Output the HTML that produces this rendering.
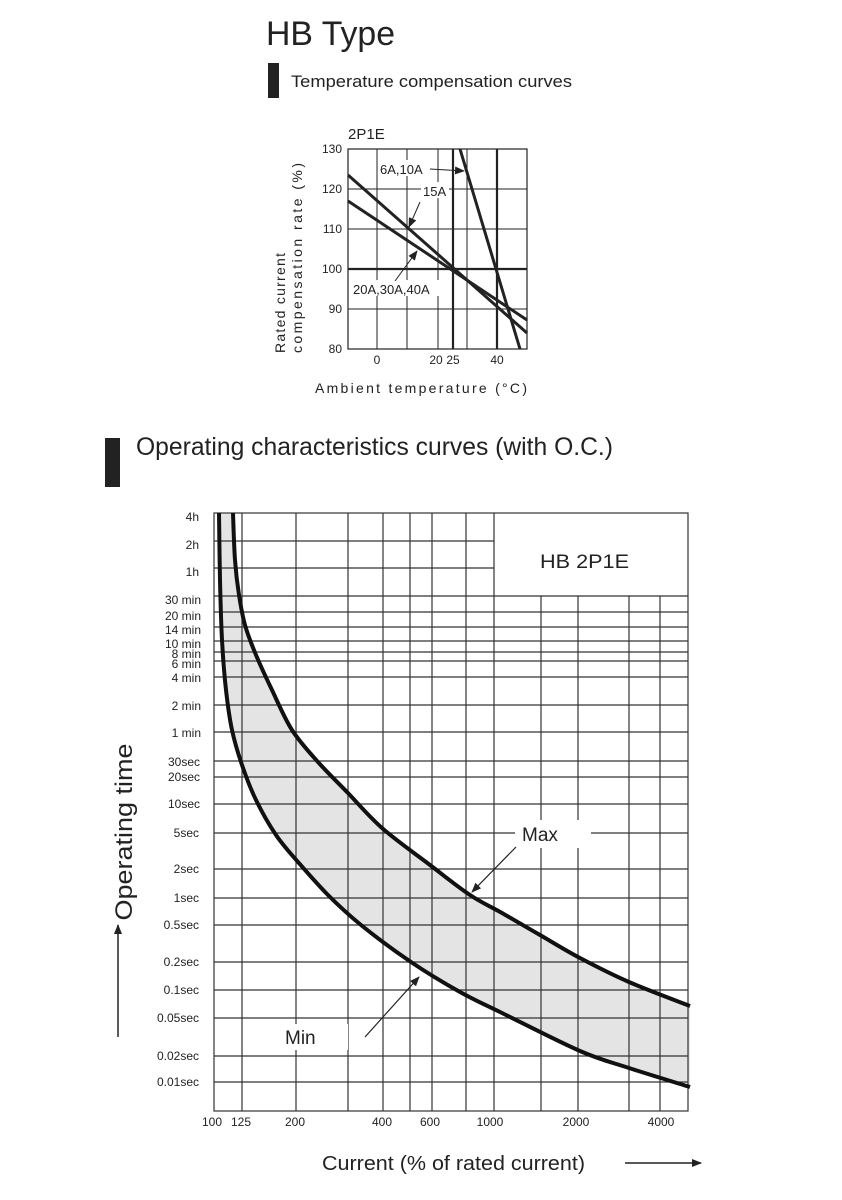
<!DOCTYPE html>
<html><head><meta charset="utf-8"><style>
html,body{margin:0;padding:0;background:#fff;}
svg{display:block;}
text{font-family:"Liberation Sans",sans-serif;fill:#222;}
</style></head><body>
<svg width="842" height="1200" viewBox="0 0 842 1200" xmlns="http://www.w3.org/2000/svg">
<defs>
<marker id="ah" markerWidth="10" markerHeight="8" refX="9" refY="4" orient="auto" markerUnits="userSpaceOnUse"><path d="M0,0 L10,4 L0,8 Z" fill="#222"/></marker>
</defs>
<text x="266" y="45" font-size="34" textLength="129" lengthAdjust="spacingAndGlyphs">HB Type</text>
<rect x="268" y="63" width="11" height="35" fill="#222"/>
<text x="291" y="87" font-size="17" textLength="281" lengthAdjust="spacingAndGlyphs">Temperature compensation curves</text>

<g stroke="#222" fill="none">
<rect x="348" y="149" width="179" height="200" stroke-width="1.2"/>
<line x1="348" y1="189" x2="527" y2="189" stroke-width="1"/>
<line x1="348" y1="229" x2="527" y2="229" stroke-width="1"/>
<line x1="348" y1="269" x2="527" y2="269" stroke-width="2.2"/>
<line x1="348" y1="309" x2="527" y2="309" stroke-width="1"/>
<line x1="377" y1="149" x2="377" y2="349" stroke-width="1"/>
<line x1="407" y1="149" x2="407" y2="349" stroke-width="1"/>
<line x1="438" y1="149" x2="438" y2="349" stroke-width="1"/>
<line x1="453" y1="149" x2="453" y2="349" stroke-width="2.2"/>
<line x1="467" y1="149" x2="467" y2="349" stroke-width="1"/>
<line x1="497" y1="149" x2="497" y2="349" stroke-width="2.2"/>
<line x1="348" y1="175" x2="527" y2="333" stroke-width="3"/>
<line x1="348" y1="201" x2="527" y2="320" stroke-width="3"/>
<line x1="460" y1="149" x2="520" y2="349" stroke-width="3"/>
</g>
<rect x="378" y="160" width="52" height="16" fill="#fff"/>
<rect x="421" y="182" width="28" height="16" fill="#fff"/>
<rect x="351" y="280" width="92" height="16" fill="#fff"/>
<g stroke="#222" stroke-width="1" marker-end="url(#ah)">
<line x1="430" y1="169" x2="464" y2="171"/>
<line x1="420" y1="202" x2="409" y2="227"/>
<line x1="395" y1="281" x2="417" y2="251"/>
</g>
<g font-size="13">
<text x="380" y="174">6A,10A</text>
<text x="423" y="196">15A</text>
<text x="353" y="294">20A,30A,40A</text>
</g>
<g font-size="12" text-anchor="end">
<text x="342" y="153">130</text><text x="342" y="193">120</text><text x="342" y="233">110</text>
<text x="342" y="273">100</text><text x="342" y="313">90</text><text x="342" y="353">80</text>
</g>
<g font-size="12" text-anchor="middle">
<text x="377" y="364">0</text><text x="436" y="364">20</text><text x="453" y="364">25</text><text x="497" y="364">40</text>
</g>
<text x="348" y="139" font-size="15">2P1E</text>
<text x="315" y="393" font-size="14" textLength="212" lengthAdjust="spacing">Ambient temperature (°C)</text>
<text transform="translate(285,353) rotate(-90)" font-size="14" textLength="100" lengthAdjust="spacing">Rated current</text>
<text transform="translate(302,353) rotate(-90)" font-size="14" textLength="190" lengthAdjust="spacing">compensation rate (%)</text>

<rect x="105" y="438" width="15" height="49" fill="#222"/>
<text x="136" y="455" font-size="25" textLength="477" lengthAdjust="spacingAndGlyphs">Operating characteristics curves (with O.C.)</text>

<path id="fill" d="" fill="#e4e4e4" stroke="none"/>

<g stroke="#333" stroke-width="1.2" fill="none">
<line x1="242" y1="513" x2="242" y2="1111"/>
<line x1="296" y1="513" x2="296" y2="1111"/>
<line x1="348" y1="513" x2="348" y2="1111"/>
<line x1="383" y1="513" x2="383" y2="1111"/>
<line x1="410" y1="513" x2="410" y2="1111"/>
<line x1="432" y1="513" x2="432" y2="1111"/>
<line x1="466" y1="513" x2="466" y2="1111"/>
<line x1="494" y1="513" x2="494" y2="1111"/>
<line x1="541" y1="596" x2="541" y2="1111"/>
<line x1="578" y1="596" x2="578" y2="1111"/>
<line x1="629" y1="596" x2="629" y2="1111"/>
<line x1="660" y1="596" x2="660" y2="1111"/>
<line x1="214" y1="541" x2="494" y2="541"/>
<line x1="214" y1="568" x2="494" y2="568"/>
<line x1="214" y1="596" x2="688" y2="596"/>
<line x1="214" y1="612" x2="688" y2="612"/>
<line x1="214" y1="627" x2="688" y2="627"/>
<line x1="214" y1="641" x2="688" y2="641"/>
<line x1="214" y1="652" x2="688" y2="652"/>
<line x1="214" y1="661" x2="688" y2="661"/>
<line x1="214" y1="677" x2="688" y2="677"/>
<line x1="214" y1="705" x2="688" y2="705"/>
<line x1="214" y1="732" x2="688" y2="732"/>
<line x1="214" y1="761" x2="688" y2="761"/>
<line x1="214" y1="777" x2="688" y2="777"/>
<line x1="214" y1="804" x2="688" y2="804"/>
<line x1="214" y1="833" x2="688" y2="833"/>
<line x1="214" y1="869" x2="688" y2="869"/>
<line x1="214" y1="898" x2="688" y2="898"/>
<line x1="214" y1="925" x2="688" y2="925"/>
<line x1="214" y1="962" x2="688" y2="962"/>
<line x1="214" y1="990" x2="688" y2="990"/>
<line x1="214" y1="1018" x2="688" y2="1018"/>
<line x1="214" y1="1056" x2="688" y2="1056"/>
<line x1="214" y1="1082" x2="688" y2="1082"/>
<rect x="214" y="513" width="474" height="598"/>
</g>
<rect x="515" y="820" width="76" height="28" fill="#fff"/>
<rect x="280" y="1024" width="68" height="26" fill="#fff"/>
<text x="540" y="568" font-size="19" textLength="89" lengthAdjust="spacingAndGlyphs">HB 2P1E</text>

<g stroke="#111" stroke-width="4" fill="none">
<path id="maxc" d=""/>
<path id="minc" d=""/>
</g>
<g stroke="#222" stroke-width="1.2" marker-end="url(#ah)">
<line x1="516" y1="847" x2="472" y2="892"/>
<line x1="365" y1="1037" x2="419" y2="977"/>
</g>
<text x="522" y="841" font-size="19">Max</text>
<text x="285" y="1044" font-size="19">Min</text>

<g font-size="12" text-anchor="end">
<text x="199" y="521">4h</text><text x="199" y="549">2h</text><text x="199" y="576">1h</text>
<text x="201" y="604">30 min</text><text x="201" y="620">20 min</text><text x="201" y="634">14 min</text>
<text x="201" y="648">10 min</text><text x="201" y="658">8 min</text><text x="201" y="668">6 min</text>
<text x="201" y="682">4 min</text><text x="201" y="710">2 min</text><text x="201" y="737">1 min</text>
<text x="200" y="766">30sec</text><text x="200" y="781">20sec</text><text x="200" y="808">10sec</text>
<text x="199" y="837">5sec</text><text x="199" y="873">2sec</text><text x="199" y="902">1sec</text>
<text x="199" y="929">0.5sec</text><text x="199" y="966">0.2sec</text><text x="199" y="994">0.1sec</text>
<text x="199" y="1022">0.05sec</text><text x="199" y="1060">0.02sec</text><text x="199" y="1086">0.01sec</text>
</g>
<g font-size="12" text-anchor="middle">
<text x="212" y="1126">100</text><text x="241" y="1126">125</text><text x="295" y="1126">200</text>
<text x="382" y="1126">400</text><text x="430" y="1126">600</text><text x="490" y="1126">1000</text>
<text x="576" y="1126">2000</text><text x="661" y="1126">4000</text>
</g>

<text transform="translate(132,832) rotate(-90)" font-size="24" text-anchor="middle" textLength="177" lengthAdjust="spacingAndGlyphs">Operating time</text>
<line x1="118" y1="1037" x2="118" y2="925" stroke="#222" stroke-width="1.5" marker-end="url(#ah)"/>
<text x="322" y="1170" font-size="20" textLength="263" lengthAdjust="spacingAndGlyphs">Current (% of rated current)</text>
<line x1="625" y1="1163" x2="701" y2="1163" stroke="#222" stroke-width="1.5" marker-end="url(#ah)"/>
</svg>
<script>
function cr(p){var d="M"+p[0][0]+","+p[0][1];for(var i=0;i<p.length-1;i++){var a=p[i-1]||p[i],b=p[i],c=p[i+1],e=p[i+2]||c;
d+=" C"+(b[0]+(c[0]-a[0])/6).toFixed(1)+","+(b[1]+(c[1]-a[1])/6).toFixed(1)+" "+(c[0]-(e[0]-b[0])/6).toFixed(1)+","+(c[1]-(e[1]-b[1])/6).toFixed(1)+" "+c[0]+","+c[1];}return d;}
var mx=[[233,513],[235,560],[239,595],[245,625],[256,655],[272,690],[292,730],[318,762],[347,792],[382,828],[430,865],[470,895],[502,913],[540,935],[580,958],[629,982],[690,1006]];
var mn=[[219,513],[220,580],[222,640],[226,690],[232,730],[242,765],[256,800],[276,835],[298,862],[328,895],[361,925],[411,962],[460,992],[502,1013],[580,1051],[629,1068],[690,1087]];
document.getElementById("maxc").setAttribute("d",cr(mx));
document.getElementById("minc").setAttribute("d",cr(mn));
var r=mn.slice().reverse();
var f=cr(mx)+" L690,1087 "+cr(r).replace("M"," L")+" L214,513 Z";
document.getElementById("fill").setAttribute("d",f);
</script>
</body></html>
